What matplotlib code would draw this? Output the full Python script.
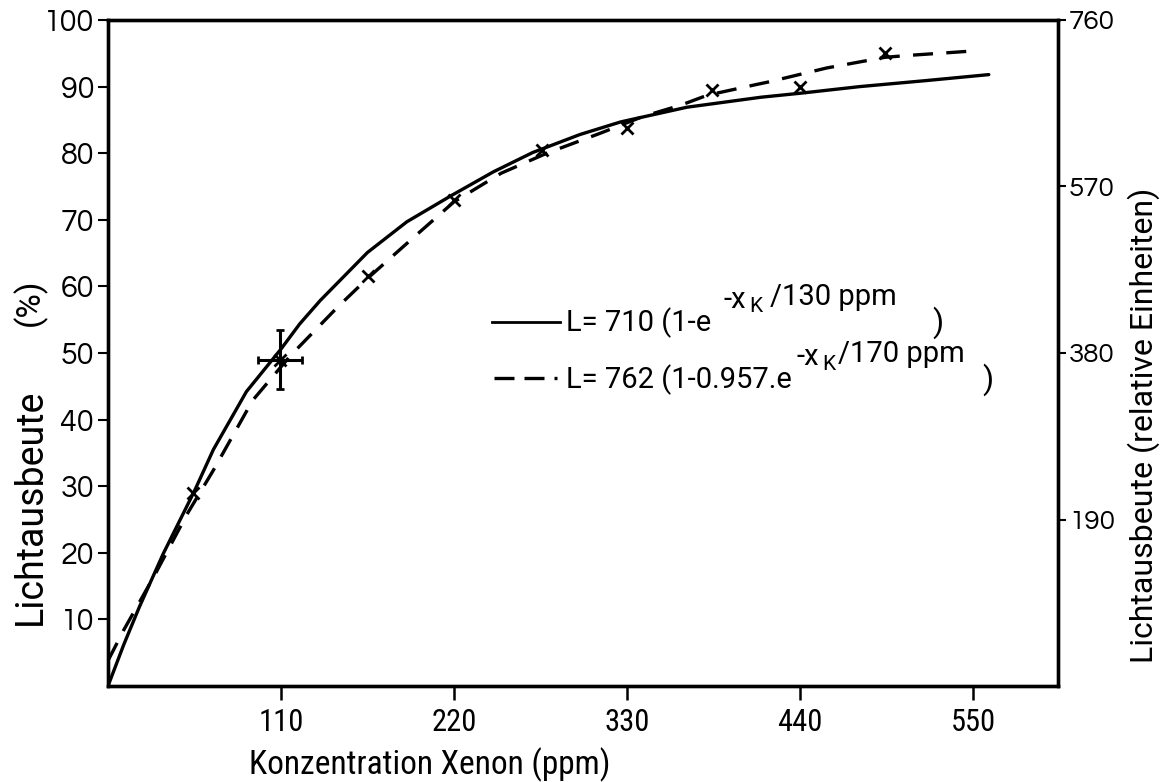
import matplotlib
matplotlib.use("Agg")
import matplotlib.pyplot as plt
from matplotlib import font_manager
from matplotlib.lines import Line2D

# ---------------- data ----------------
x_ticks = [110, 220, 330, 440, 550]
y_ticks_left = [10, 20, 30, 40, 50, 60, 70, 80, 90, 100]
y_ticks_right = [190, 380, 570, 760]

# solid fit curve L = 710 (1 - e^(-x/130 ppm)) (percent)
solid_x = [0, 10, 20, 35, 55, 67, 88, 110, 122, 135, 165, 190, 218, 245, 270,
           300, 326, 368, 415, 440, 478, 520, 560]
solid_y = [0, 6.2, 11.9, 19.8, 29.3, 35.5, 44.2, 50.6, 54.4, 57.9, 65.1, 69.7,
           73.6, 77.2, 80.1, 82.8, 84.7, 86.9, 88.4, 89.0, 90.0, 90.9, 91.8]

# dashed fit curve L = 762 (1 - 0.957 e^(-x/170 ppm)) (percent)
dash_x = [0, 10, 20, 30, 50, 67, 92, 116, 146, 165, 195, 220, 250, 279, 296,
          313, 340, 364, 381, 410, 420, 457, 494, 510, 547]
dash_y = [3.8, 8.4, 12.6, 16.8, 25.7, 32.4, 42.9, 49.6, 56.9, 61.2, 67.5, 72.7,
          77.0, 80.0, 81.5, 83.0, 85.5, 87.2, 88.7, 90.2, 90.7, 92.8, 94.4, 94.7, 95.3]

# measured points (x markers)
meas_x = [54, 165, 220, 276, 330, 384, 440, 494]
meas_y = [29.0, 61.6, 73.0, 80.5, 83.8, 89.5, 90.0, 95.0]

# point with error bars
err_x = [109.5]
err_y = [49.0]
err_dx = [14]
err_dy = [4.4]

# legend formula pieces
leg1 = ["L= 710 (1-e", "-x", "K", "/130 ppm", ")"]
leg2 = ["L= 762 (1-0.957.e", "-x", "K", "/170 ppm", ")"]

# ---------------- fonts ----------------
avail = {f.name for f in font_manager.fontManager.ttflist}
def pick(cands, default="DejaVu Sans"):
    for c in cands:
        if c in avail:
            return c
    return default

narrow = pick(["Roboto Condensed", "Archivo Narrow", "PT Sans Narrow",
               "Liberation Sans Narrow"])
normal = pick(["Roboto", "DejaVu Sans"])
wide = pick(["Questrial", "Didact Gothic", "DejaVu Sans"])

W, H = 1160, 782
fig = plt.figure(figsize=(W / 100, H / 100), dpi=100)
L, R, B, T = 108, 1058, 686, 20
ax = fig.add_axes([L / W, 1 - B / H, (R - L) / W, (B - T) / H])

ax.set_xlim(0, 604)
ax.set_ylim(0, 100)

lw = 2.4
ax.plot(solid_x, solid_y, color="black", lw=lw, solid_capstyle="round")
ax.plot(dash_x, dash_y, color="black", lw=lw, dashes=(6, 4))
ax.plot(meas_x, meas_y, linestyle="none", marker="x", color="black",
        markersize=9, mew=2.0)
ax.errorbar(err_x, err_y, xerr=err_dx, yerr=err_dy, fmt="x", color="black",
            markersize=9, mew=2.0, elinewidth=2.2, capsize=3, capthick=2.2)

for s in ax.spines.values():
    s.set_linewidth(2.4)

ax.set_xticks(x_ticks)
ax.set_xticklabels([str(v) for v in x_ticks], fontfamily=narrow, fontsize=22)
ax.set_yticks(y_ticks_left)
ax.set_yticklabels([str(v) for v in y_ticks_left], fontfamily=wide, fontsize=22)
ax.tick_params(axis="x", direction="out", length=10, width=1.8, pad=6)
ax.tick_params(axis="y", direction="out", length=7, width=1.5, pad=3)

ax2 = ax.twinx()
ax2.set_ylim(0, 760)
ax2.set_yticks(y_ticks_right)
ax2.set_yticklabels([str(v) for v in y_ticks_right], fontfamily=wide, fontsize=20)
ax2.tick_params(axis="y", direction="out", length=6, width=1.5, pad=2)
for s in ax2.spines.values():
    s.set_linewidth(2.4)

# axis labels
fig.text(430 / W, 1 - 765 / H, "Konzentration Xenon (ppm)", fontfamily=narrow,
         fontsize=24, ha="center", va="center")
fig.text(30 / W, 1 - 507 / H, "Lichtausbeute", fontfamily=normal, fontsize=27,
         rotation=90, ha="center", va="center")
fig.text(30 / W, 1 - 302 / H, "(%)", fontfamily=normal, fontsize=24,
         rotation=90, ha="center", va="center")
fig.text(1144 / W, 1 - 425 / H, "Lichtausbeute (relative Einheiten)",
         fontfamily=normal, fontsize=23, rotation=90, ha="center", va="center")

# legend (hand-lettered formulae)
fig.add_artist(Line2D([492 / W, 560 / W], [1 - 322 / H, 1 - 322 / H],
                      color="black", lw=2.0))
fig.add_artist(Line2D([494 / W, 557 / W], [1 - 378 / H, 1 - 378 / H],
                      color="black", lw=2.4, dashes=(6, 3)))

renderer = fig.canvas.get_renderer()

def formula(pieces, x0, yc, gaps):
    # pieces: main, sup, sub-index, sup-rest, closing bracket
    sizes = [21, 21, 15, 21, 23]
    dys = [0, -23, -16, -26, 0]
    x = x0
    for i, (txt, fsz, dy) in enumerate(zip(pieces, sizes, dys)):
        t = fig.text(x / W, 1 - (yc + dy) / H, txt, fontfamily=normal,
                     fontsize=fsz, va="center", ha="left")
        bb = t.get_window_extent(renderer)
        x = bb.x1 + gaps[i]

formula(leg1, 566, 323, [12, 3, 8, 36, 0])
formula(leg2, 566, 380, [5, 3, 2, 18, 0])

fig.savefig("out.png", dpi=100)
